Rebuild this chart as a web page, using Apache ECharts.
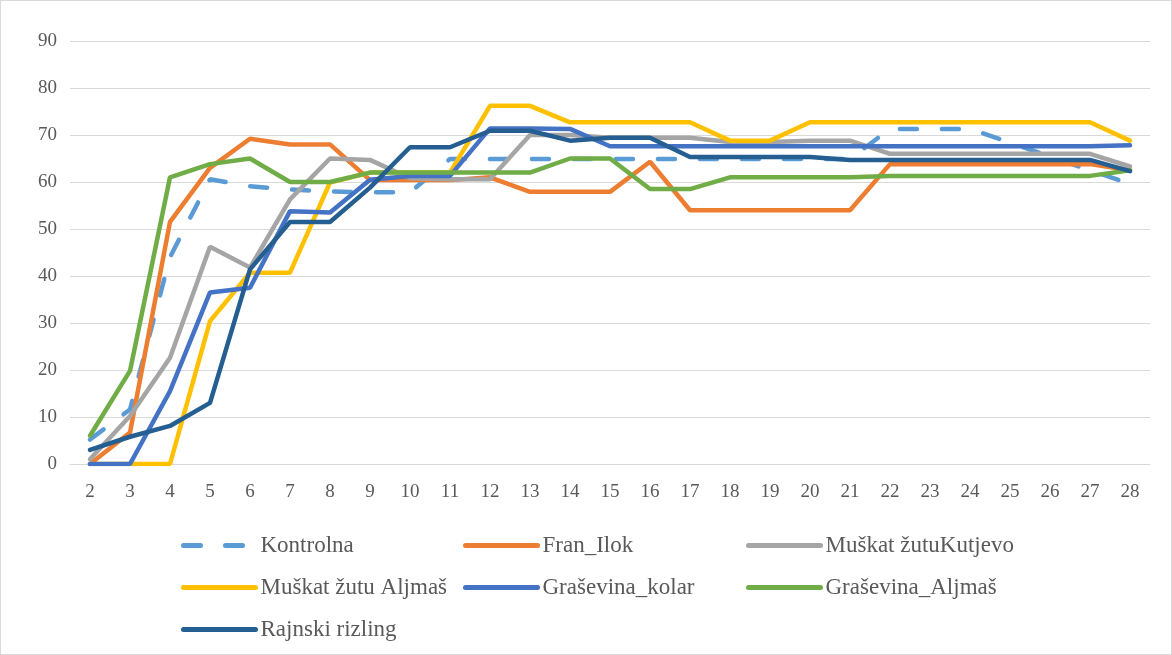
<!DOCTYPE html>
<html lang="hr">
<head>
<meta charset="UTF-8">
<title>Grafikon</title>
<script src="https://cdn.jsdelivr.net/npm/echarts@6/dist/echarts.min.js"></script>
<style>
  html, body { margin: 0; padding: 0; background: #fff; }
  #chart { width: 1172px; height: 655px; box-sizing: border-box; border: 1px solid #d9d9d9; }
</style>
</head>
<body>
<div id="chart"></div>
<script>
  // podaci
  var days = ['2','3','4','5','6','7','8','9','10','11','12','13','14','15','16','17','18','19','20','21','22','23','24','25','26','27','28'];
  var kontrolna = [5.2, 11.6, 44, 60.6, 59.1, 58.4, 58, 57.8, 57.8, 64.9, 64.9, 64.9, 64.9, 64.9, 64.9, 64.9, 64.9, 64.9, 64.9, 64.9, 71.3, 71.3, 71.3, 68.4, 65.4, 62.5, 59.6];
  var franIlok = [0, 6.7, 51.5, 63, 69.2, 68, 68, 60.4, 60.4, 60.4, 61, 57.9, 57.9, 57.9, 64.3, 54, 54, 54, 54, 54, 63.8, 63.8, 63.8, 63.8, 63.8, 63.8, 62.5];
  var muskatKutjevo = [1, 10.2, 22.6, 46.2, 41.8, 56.3, 65, 64.7, 60.8, 60.6, 60.6, 70, 70, 69.4, 69.4, 69.4, 68.5, 68.5, 68.8, 68.8, 66, 66, 66, 66, 66, 66, 63.3];
  var muskatAljmas = [0, 0, 0, 30.4, 40.7, 40.7, 59.9, 62, 62, 62, 76.2, 76.2, 72.7, 72.7, 72.7, 72.7, 68.8, 68.8, 72.7, 72.7, 72.7, 72.7, 72.7, 72.7, 72.7, 72.7, 68.8];
  var gravKolar = [0, 0, 15.5, 36.5, 37.5, 53.8, 53.5, 60.5, 61.3, 61.3, 71.4, 71.4, 71.3, 67.6, 67.6, 67.6, 67.6, 67.6, 67.6, 67.6, 67.6, 67.6, 67.6, 67.6, 67.6, 67.6, 67.8];
  var gravAljmas = [6, 19.8, 61, 63.8, 65, 60, 60, 62, 62, 62, 62, 62, 65, 65, 58.5, 58.5, 61, 61, 61, 61, 61.3, 61.3, 61.3, 61.3, 61.3, 61.3, 62.5];
  var rajnski = [3, 5.8, 8.1, 13, 41.4, 51.5, 51.5, 58.8, 67.4, 67.4, 70.9, 70.9, 68.8, 69.4, 69.4, 65.3, 65.3, 65.3, 65.3, 64.7, 64.7, 64.7, 64.7, 64.7, 64.7, 64.7, 62.3];
  var names = ['Kontrolna', 'Fran_Ilok', 'Muškat žutuKutjevo', 'Muškat žutu Aljmaš', 'Graševina_kolar', 'Graševina_Aljmaš', 'Rajnski rizling'];
  var values = [kontrolna, franIlok, muskatKutjevo, muskatAljmas, gravKolar, gravAljmas, rajnski];
  var colors = ['#5B9BD5', '#ED7D31', '#A5A5A5', '#FFC000', '#4472C4', '#70AD47', '#255E91'];

  var font = 'Liberation Serif, Times New Roman, serif';

  var series = names.map(function (n, i) {
    return {
      name: n,
      type: 'line',
      data: values[i],
      showSymbol: false,
      symbol: 'none',
      animation: false,
      lineStyle: { color: colors[i], width: 4.5, type: i === 0 ? [17, 25] : 'solid', cap: 'round' },
      itemStyle: { color: colors[i] }
    };
  });

  // legenda: 3 stupca
  var colX = [180, 462, 745];
  var rowY = [533, 575, 617];
  var legends = names.map(function (n, i) {
    return {
      data: [n],
      left: colX[i % 3],
      top: rowY[Math.floor(i / 3)],
      itemWidth: 72,
      itemHeight: 24,
      padding: 0,
      itemStyle: { opacity: 0 },
      lineStyle: { width: 5, cap: 'round' },
      textStyle: { fontFamily: font, fontSize: 23, color: '#595959' }
    };
  });

  var chart = echarts.init(document.getElementById('chart'));
  chart.setOption({
    animation: false,
    grid: { left: 69, right: 21, top: 40, bottom: 190 },
    legend: legends,
    xAxis: {
      type: 'category',
      data: days,
      boundaryGap: true,
      axisTick: { show: false },
      axisLine: { lineStyle: { color: '#d9d9d9', width: 1 } },
      axisLabel: { fontFamily: font, fontSize: 19, color: '#595959', margin: 19 }
    },
    yAxis: {
      type: 'value',
      min: 0,
      max: 90,
      interval: 10,
      axisLine: { show: false },
      axisTick: { show: false },
      splitLine: { lineStyle: { color: '#d9d9d9', width: 1 } },
      axisLabel: { fontFamily: font, fontSize: 19, color: '#595959', margin: 13 }
    },
    series: series
  });
</script>
</body>
</html>
